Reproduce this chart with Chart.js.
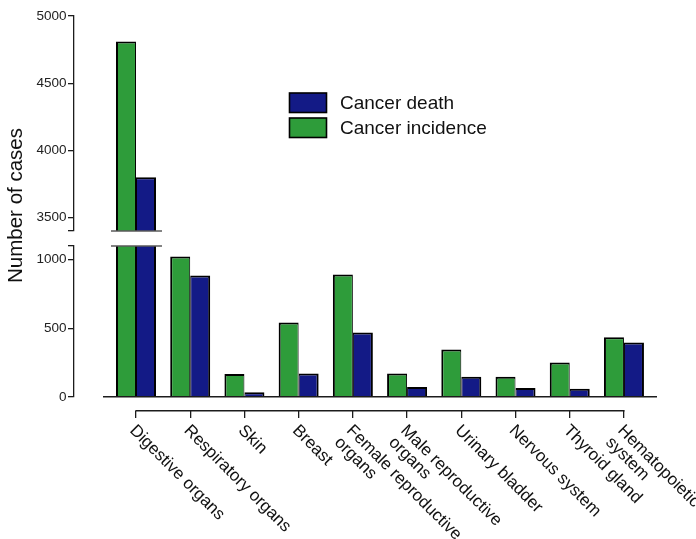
<!DOCTYPE html>
<html>
<head>
<meta charset="utf-8">
<script src="https://cdn.jsdelivr.net/npm/chart.js@4.4.1/dist/chart.umd.min.js"></script>
<style>
  html, body { margin: 0; padding: 0; background: #ffffff; }
  #wrap { position: relative; width: 696px; height: 539px; }
  #wrap canvas { position: absolute; left: 0; top: 0; }
</style>
</head>
<body>
<div id="wrap">
  <canvas id="upper" width="696" height="539"></canvas>
  <canvas id="lower" width="696" height="539"></canvas>
</div>
<script>
// ---- data ----
const categories = [
  'Digestive organs',
  'Respiratory organs',
  'Skin',
  'Breast',
  ['Female reproductive', 'organs'],
  ['Male reproductive', 'organs'],
  'Urinary bladder',
  'Nervous system',
  'Thyroid gland',
  ['Hematopoietic', 'system']
];
const incidence = [4810, 1024, 167, 542, 893, 172, 346, 148, 252, 436];
const deaths    = [3800,  886,  34, 172, 470,  73, 148,  65,  61, 397];
const seriesNames = ['Cancer incidence', 'Cancer death'];

// broken value axis: upper and lower segments
const upperRange = [3400, 5000];
const lowerRange = [0, 1100];
const upperTickLabels = [3500, 4000, 4500, 5000];
const lowerTickLabels = [0, 500, 1000];
const yTitle = 'Number of cases';

// ---- style ----
const FONT = "'Liberation Sans', Arial, Helvetica, sans-serif";
const GREEN = '#2e9c3a';
const BLUE = '#131a86';
const INK = '#1c1c1c';

// index range of the category axis, and where the offset axes sit
const X_MIN = -0.590, X_MAX = 9.591;
const Y_AXIS_AT = -1.143;      // x-position (in category units) of the value axis
const LABEL_AXIS_AT = -100;    // y-position (in value units) of the category tick bracket

const indexLabels = categories.map((c, i) => i);

function categoryTicks(scale) {
  scale.ticks = categories.map((c, i) => ({ value: i }));
}

function xScale(extra) {
  return Object.assign({
    type: 'linear', axis: 'x', bounds: 'data',
    min: X_MIN, max: X_MAX, offset: false,
    afterBuildTicks: categoryTicks,
    grid: { display: false, drawOnChartArea: false, offset: false },
    border: { display: false },
    ticks: { display: false }
  }, extra);
}

function yScale(range, labelled) {
  return {
    type: 'linear', axis: 'y', bounds: 'data',
    min: range[0], max: range[1],
    position: { x: Y_AXIS_AT },
    afterBuildTicks: s => {
      const vals = [range[0], ...labelled, range[1]].filter((v, i, a) => a.indexOf(v) === i);
      s.ticks = vals.map(v => ({ value: v }));
    },
    grid: { display: true, drawOnChartArea: false, drawTicks: true, tickLength: 5, color: INK, lineWidth: 1.3 },
    border: { display: true, color: INK, width: 1.3 },
    ticks: {
      color: '#222',
      font: { family: FONT, size: 13.5 },
      // trailing spaces keep the right-aligned numbers clear of the tick marks
      callback: v => labelled.includes(v) ? `${v}  ` : ''
    }
  };
}

function datasets() {
  const common = {
    borderColor: '#000000',
    clip: 0,
    categoryPercentage: 0.738,
    barPercentage: 1,
    borderSkipped: 'start',
    xAxisID: 'x', yAxisID: 'y'
  };
  return [
    Object.assign({ label: seriesNames[0], data: incidence, backgroundColor: GREEN,
      borderWidth: { left: 2, right: 1, top: 2, bottom: 0 } }, common),
    Object.assign({ label: seriesNames[1], data: deaths, backgroundColor: BLUE,
      borderWidth: { left: 1, right: 2, top: 2, bottom: 0 } }, common)
  ];
}

// short gray segments marking the axis break over bars that cross it
function breakMarks(edge) {
  return {
    id: 'breakMarks',
    afterDatasetsDraw(chart) {
      const ctx = chart.ctx;
      const area = chart.chartArea;
      const y = edge === 'bottom' ? area.bottom : area.top;
      const m0 = chart.getDatasetMeta(0), m1 = chart.getDatasetMeta(1);
      ctx.save();
      ctx.strokeStyle = '#5a5a5a';
      ctx.lineWidth = 1.6;
      categories.forEach((c, i) => {
        if (Math.max(incidence[i], deaths[i]) <= lowerRange[1]) return;
        const a = m0.data[i], b = m1.data[i];
        const left = Math.min(a.x - a.width / 2, b.x - b.width / 2);
        const right = Math.max(a.x + a.width / 2, b.x + b.width / 2);
        ctx.beginPath();
        ctx.moveTo(left - 5, y);
        ctx.lineTo(right + 6, y);
        ctx.stroke();
      });
      ctx.restore();
    }
  };
}

const legendAndTitle = {
  id: 'legendAndTitle',
  afterDraw(chart) {
    const ctx = chart.ctx;
    ctx.save();
    // legend
    const items = [
      { name: seriesNames[1], color: BLUE },
      { name: seriesNames[0], color: GREEN }
    ];
    items.forEach((it, i) => {
      const bx = 289.5, by = 93 + i * 25, bw = 37, bh = 19.5;
      ctx.fillStyle = it.color;
      ctx.fillRect(bx, by, bw, bh);
      ctx.strokeStyle = '#000';
      ctx.lineWidth = 1.6;
      ctx.strokeRect(bx, by, bw, bh);
      ctx.fillStyle = '#111';
      ctx.font = `19px ${FONT}`;
      ctx.textAlign = 'left';
      ctx.textBaseline = 'middle';
      ctx.fillText(it.name, 340, by + bh / 2 + 1);
    });
    // value axis title
    ctx.translate(22, 205.5);
    ctx.rotate(-Math.PI / 2);
    ctx.font = `20.5px ${FONT}`;
    ctx.fillStyle = '#111';
    ctx.textAlign = 'center';
    ctx.textBaseline = 'alphabetic';
    ctx.fillText(yTitle, 0, 0);
    ctx.restore();
  }
};

const categoryLabels = {
  id: 'categoryLabels',
  afterDraw(chart) {
    const ctx = chart.ctx;
    const xs = chart.scales.xl;
    const yPix = chart.scales.y.getPixelForValue(LABEL_AXIS_AT);
    ctx.save();
    // bracket joining the category ticks
    ctx.strokeStyle = INK;
    ctx.lineWidth = 1.3;
    ctx.beginPath();
    ctx.moveTo(xs.getPixelForValue(0) - 0.65, yPix);
    ctx.lineTo(xs.getPixelForValue(categories.length - 1) + 0.65, yPix);
    ctx.stroke();
    // rotated category names
    ctx.font = `17px ${FONT}`;
    ctx.fillStyle = '#111';
    ctx.textAlign = 'left';
    ctx.textBaseline = 'alphabetic';
    categories.forEach((lab, i) => {
      const lines = Array.isArray(lab) ? lab : [lab];
      const px = xs.getPixelForValue(i);
      ctx.save();
      ctx.translate(px - 7, yPix + 20.5);
      ctx.rotate(Math.PI / 4);
      lines.forEach((t, j) => ctx.fillText(t, 0, j * 17));
      ctx.restore();
    });
    ctx.restore();
  }
};

const baseOptions = {
  responsive: false,
  animation: false,
  devicePixelRatio: 1,
  events: [],
  plugins: { legend: { display: false }, tooltip: { enabled: false } }
};

// upper segment of the broken axis
new Chart(document.getElementById('upper'), {
  type: 'bar',
  data: { labels: indexLabels, datasets: datasets() },
  options: Object.assign({}, baseOptions, {
    layout: { padding: { left: 104, right: 40, top: 16, bottom: 308 } },
    scales: {
      x: xScale({ position: { y: upperRange[0] } }),
      y: yScale(upperRange, upperTickLabels)
    }
  }),
  plugins: [breakMarks('bottom'), legendAndTitle]
});

// lower segment with the category axis
new Chart(document.getElementById('lower'), {
  type: 'bar',
  data: { labels: indexLabels, datasets: datasets() },
  options: Object.assign({}, baseOptions, {
    layout: { padding: { left: 104, right: 40, top: 246, bottom: 142 } },
    scales: {
      x: xScale({
        position: { y: 0 },
        border: { display: true, color: INK, width: 1.5, z: 1 }
      }),
      xl: xScale({
        position: { y: LABEL_AXIS_AT },
        grid: { display: true, drawOnChartArea: false, offset: false, drawTicks: true, tickLength: 7, color: INK, lineWidth: 1.3 }
      }),
      y: yScale(lowerRange, lowerTickLabels)
    }
  }),
  plugins: [breakMarks('top'), categoryLabels]
});
</script>
</body>
</html>
